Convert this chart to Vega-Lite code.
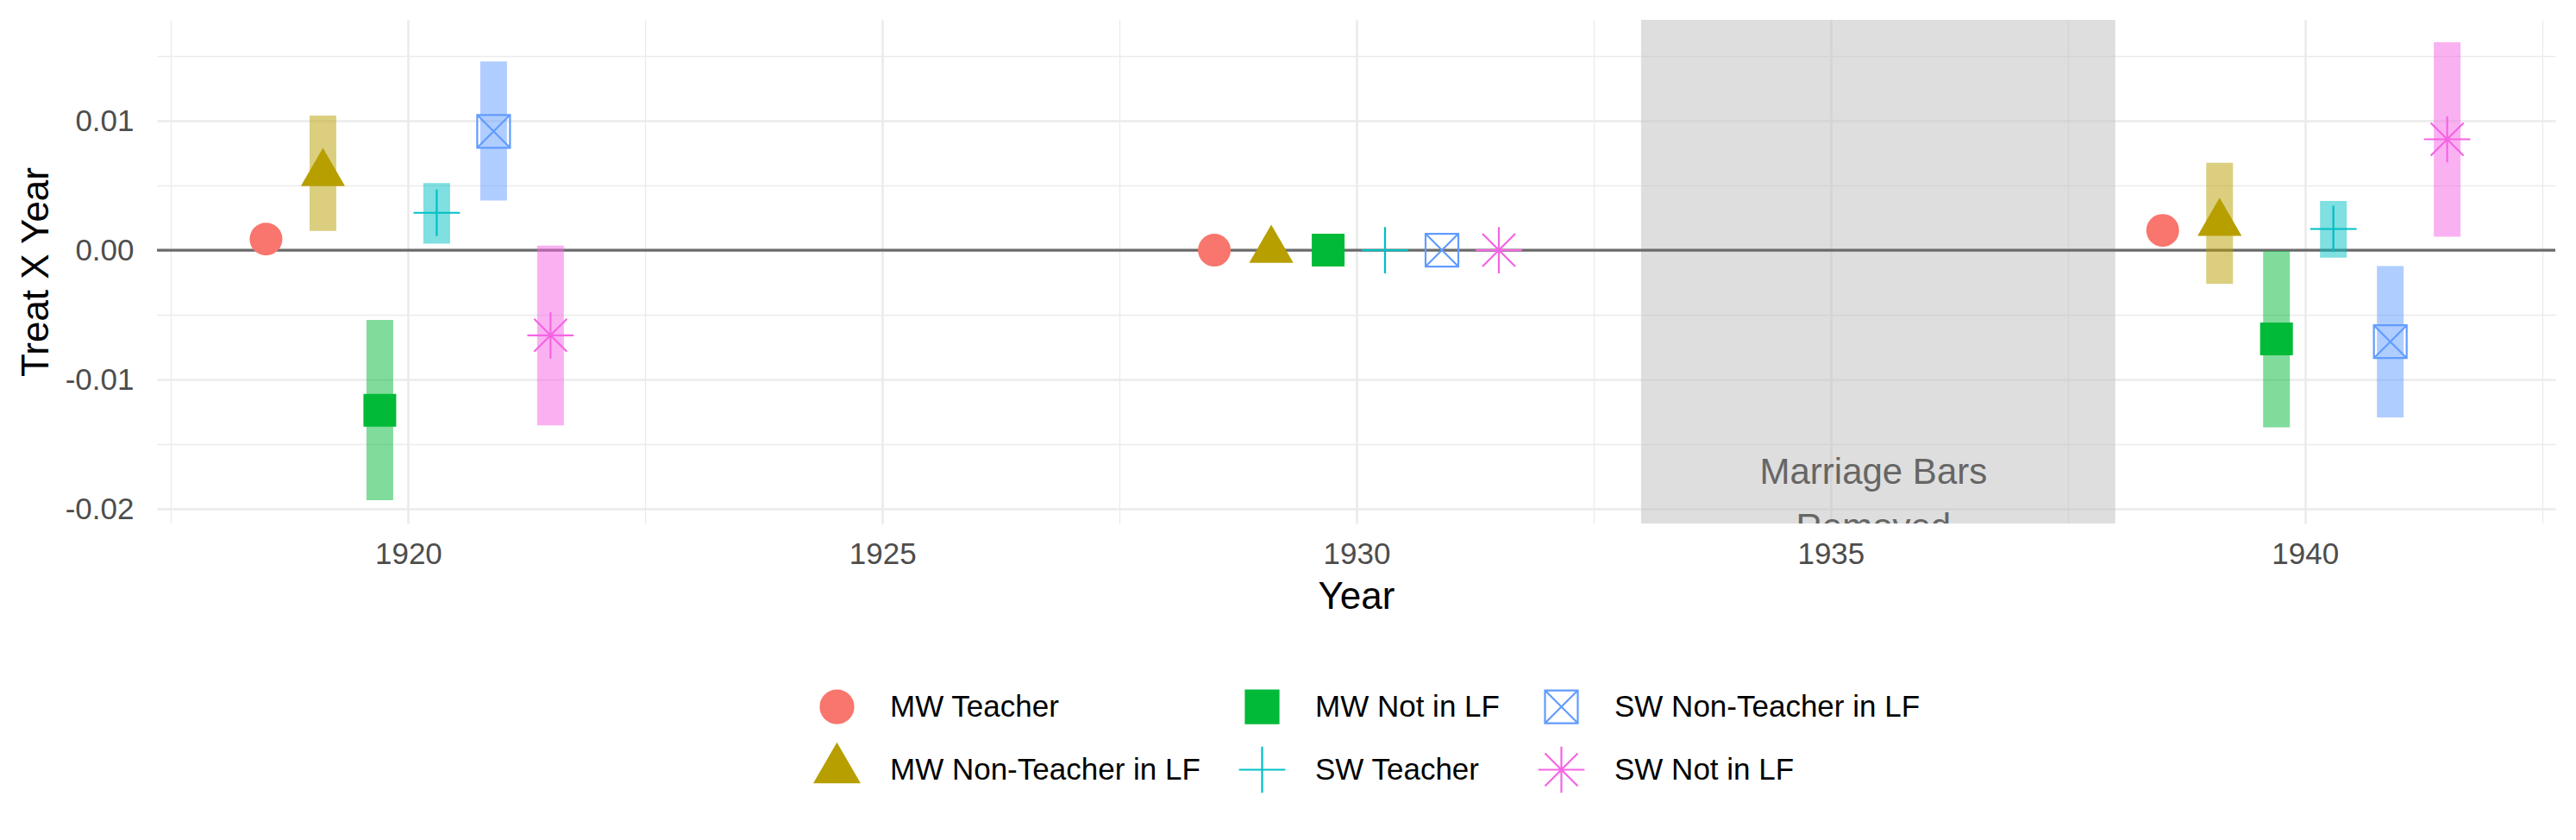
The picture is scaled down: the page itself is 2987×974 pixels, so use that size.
{
  "$schema": "https://vega.github.io/schema/vega-lite/v6.json",
  "autosize": {"type": "none"},
  "padding": {"left": 182, "top": 23, "right": 24, "bottom": 367},
  "width": 2781,
  "height": 584,
  "background": "white",
  "config": {
    "view": {"stroke": null},
    "font": "Liberation Sans",
    "axis": {
      "domain": false,
      "ticks": false,
      "tickSize": 0,
      "gridColor": "#EBEBEB",
      "labelColor": "#4D4D4D",
      "labelFont": "Liberation Sans",
      "labelFontSize": 35,
      "titleFont": "Liberation Sans",
      "titleFontSize": 44,
      "titleFontWeight": "normal",
      "titleColor": "#000000",
      "labelOverlap": false,
      "labelFlush": false
    }
  },
  "datasets": {
    "est": [
      {"group": "MW Teacher", "xpos": 1918.5, "est": 0.00086, "lo": null, "hi": null},
      {"group": "MW Non-Teacher in LF", "xpos": 1919.1, "est": 0.00594, "lo": 0.00149, "hi": 0.0104},
      {"group": "MW Not in LF", "xpos": 1919.7, "est": -0.01237, "lo": -0.01932, "hi": -0.00539},
      {"group": "SW Teacher", "xpos": 1920.3, "est": 0.00289, "lo": 0.00051, "hi": 0.00518},
      {"group": "SW Non-Teacher in LF", "xpos": 1920.9, "est": 0.00918, "lo": 0.00384, "hi": 0.01458},
      {"group": "SW Not in LF", "xpos": 1921.5, "est": -0.00658, "lo": -0.01354, "hi": 0.00036},
      {"group": "MW Teacher", "xpos": 1928.5, "est": 0, "lo": null, "hi": null},
      {"group": "MW Non-Teacher in LF", "xpos": 1929.1, "est": 0, "lo": null, "hi": null},
      {"group": "MW Not in LF", "xpos": 1929.7, "est": 0, "lo": null, "hi": null},
      {"group": "SW Teacher", "xpos": 1930.3, "est": 0, "lo": null, "hi": null},
      {"group": "SW Non-Teacher in LF", "xpos": 1930.9, "est": 0, "lo": null, "hi": null},
      {"group": "SW Not in LF", "xpos": 1931.5, "est": 0, "lo": null, "hi": null},
      {"group": "MW Teacher", "xpos": 1938.5, "est": 0.00153, "lo": null, "hi": null},
      {"group": "MW Non-Teacher in LF", "xpos": 1939.1, "est": 0.00209, "lo": -0.00259, "hi": 0.00676},
      {"group": "MW Not in LF", "xpos": 1939.7, "est": -0.00686, "lo": -0.01369, "hi": -0.00006},
      {"group": "SW Teacher", "xpos": 1940.3, "est": 0.00164, "lo": -0.00057, "hi": 0.00381},
      {"group": "SW Non-Teacher in LF", "xpos": 1940.9, "est": -0.00707, "lo": -0.01292, "hi": -0.00122},
      {"group": "SW Not in LF", "xpos": 1941.5, "est": 0.00857, "lo": 0.00104, "hi": 0.01607}
    ]
  },
  "layer": [
    {
      "data": {"values": [{"start": 1933, "end": 1938}]},
      "mark": {"type": "rect", "color": "#BEBEBE", "opacity": 0.5},
      "encoding": {
        "x": {
          "field": "start", "type": "quantitative",
          "scale": {"domain": [1917.35, 1942.64], "nice": false, "zero": false},
          "axis": {
            "title": "Year",
            "values": [1917.5, 1920, 1922.5, 1925, 1927.5, 1930, 1932.5, 1935, 1937.5, 1940, 1942.5],
            "labelExpr": "datum.value % 5 === 0 ? format(datum.value, 'd') : ''",
            "gridWidth": {"condition": {"test": "datum.value % 5 === 0", "value": 2.6}, "value": 1.3},
            "labelBaseline": "alphabetic",
            "labelPadding": 46,
            "titleX": 1390.5,
            "titleY": 98,
            "titleBaseline": "alphabetic",
            "titleAlign": "center",
            "zindex": 0
          }
        },
        "x2": {"field": "end"}
      }
    },
    {
      "data": {"values": [{"label": "Marriage Bars\nRemoved", "x": 1935.45, "y": -0.01719}]},
      "mark": {"type": "text", "clip": true, "fontSize": 42, "color": "#666666", "lineBreak": "\n", "lineHeight": 64, "baseline": "middle", "align": "center", "font": "Liberation Sans"},
      "encoding": {
        "x": {"field": "x", "type": "quantitative", "scale": {"domain": [1917.35, 1942.64], "nice": false, "zero": false}},
        "y": {"field": "y", "type": "quantitative", "scale": {"domain": [-0.02112, 0.0178], "nice": false, "zero": false}},
        "text": {"field": "label"}
      }
    },
    {
      "data": {"values": [{"y": 0}]},
      "mark": {"type": "rule", "color": "#6B6B6B", "strokeWidth": 3.4},
      "encoding": {
        "y": {
          "field": "y", "type": "quantitative",
          "scale": {"domain": [-0.02112, 0.0178], "nice": false, "zero": false},
          "axis": {
            "title": "Treat X Year",
            "values": [-0.02, -0.015, -0.01, -0.005, 0, 0.005, 0.01, 0.015],
            "labelExpr": "abs(datum.value*100 - round(datum.value*100)) < 0.001 ? replace(format(datum.value, '.2f'), '\u2212', '-') : ''",
            "gridWidth": {"condition": {"test": "abs(datum.value*100 - round(datum.value*100)) < 0.001", "value": 2.6}, "value": 1.3},
            "labelPadding": 27,
            "labelBaseline": "middle",
            "titleAngle": 270,
            "titleX": -127,
            "titleY": 292,
            "titleBaseline": "alphabetic",
            "titleAlign": "center",
            "zindex": 0
          }
        }
      }
    },
    {
      "data": {"name": "est"},
      "mark": {"type": "rule", "strokeWidth": 31, "opacity": 0.5, "strokeCap": "butt"},
      "encoding": {
        "x": {"field": "xpos", "type": "quantitative", "scale": {"domain": [1917.35, 1942.64], "nice": false, "zero": false}},
        "y": {"field": "lo", "type": "quantitative", "scale": {"domain": [-0.02112, 0.0178], "nice": false, "zero": false}},
        "y2": {"field": "hi"},
        "color": {
          "field": "group", "type": "nominal",
          "scale": {
            "domain": ["MW Teacher", "MW Not in LF", "SW Non-Teacher in LF", "MW Non-Teacher in LF", "SW Teacher", "SW Not in LF"],
            "range": ["#F8766D", "#00BA38", "#619CFF", "#B79F00", "#00BFC4", "#F564E3"]
          }
        }
      }
    },
    {
      "data": {"name": "est"},
      "mark": {"type": "point", "filled": false, "size": 1444, "opacity": 1},
      "encoding": {
        "x": {"field": "xpos", "type": "quantitative", "scale": {"domain": [1917.35, 1942.64], "nice": false, "zero": false}},
        "y": {"field": "est", "type": "quantitative", "scale": {"domain": [-0.02112, 0.0178], "nice": false, "zero": false}},
        "color": {
          "field": "group", "type": "nominal",
          "scale": {
            "domain": ["MW Teacher", "MW Not in LF", "SW Non-Teacher in LF", "MW Non-Teacher in LF", "SW Teacher", "SW Not in LF"],
            "range": ["#F8766D", "#00BA38", "#619CFF", "#B79F00", "#00BFC4", "#F564E3"]
          },
          "legend": {
            "title": null, "orient": "none", "legendX": 768, "legendY": 776,
            "direction": "horizontal", "columns": 3, "symbolSize": 1444, "symbolStrokeWidth": 2.2,
            "labelFontSize": 35, "labelFont": "Liberation Sans", "labelColor": "#000000",
            "labelOffset": 41, "rowPadding": 15, "columnPadding": 40, "padding": 0, "labelLimit": 1000,
            "encoding": {"symbols": {
              "fill": {"value": {"signal": "scale('fill', datum.value)"}},
              "strokeWidth": {"value": 2.2},
              "shape": {"value": {"signal": "datum.value === 'MW Teacher' ? 'M1,0A1,1 0 1,1 -1,0A1,1 0 1,1 1,0Z M-1.5,0L-1,0M1,0L1.5,0' : datum.value === 'MW Not in LF' ? 'M-1,-1L1,-1L1,1L-1,1Z M-1.5,0L-1,0M1,0L1.5,0' : datum.value === 'SW Non-Teacher in LF' ? 'M-1,-1L1,-1L1,1L-1,1Z M-1,-1L1,1M1,-1L-1,1M-1.5,0L1.5,0' : datum.value === 'MW Non-Teacher in LF' ? 'M0,-1.5551L1.3468,0.7776L-1.3468,0.7776Z M-1.5,0L-0.8,0M0.8,0L1.5,0' : datum.value === 'SW Teacher' ? 'M-1.5,0L1.5,0M0,-1.414L0,1.414' : 'M-1.5,0L1.5,0M0,-1.414L0,1.414M-1,-1L1,1M1,-1L-1,1'"}}
            }}
          }
        },
        "fill": {
          "field": "group", "type": "nominal", "legend": null,
          "scale": {
            "domain": ["MW Teacher", "MW Not in LF", "SW Non-Teacher in LF", "MW Non-Teacher in LF", "SW Teacher", "SW Not in LF"],
            "range": ["#F8766D", "#00BA38", "transparent", "#B79F00", "transparent", "transparent"]
          }
        },
        "strokeWidth": {
          "condition": {"test": "datum.group === 'MW Teacher' || datum.group === 'MW Not in LF' || datum.group === 'MW Non-Teacher in LF'", "value": 0},
          "value": 2.2
        },
        "shape": {
          "field": "group", "type": "nominal",
          "scale": {
            "domain": ["MW Teacher", "MW Not in LF", "SW Non-Teacher in LF", "MW Non-Teacher in LF", "SW Teacher", "SW Not in LF"],
            "range": ["circle", "square", "M-1,-1L1,-1L1,1L-1,1Z M-1,-1L1,1M1,-1L-1,1", "M0,-1.5551L1.3468,0.7776L-1.3468,0.7776Z", "M-1.414,0L1.414,0M0,-1.414L0,1.414", "M-1.414,0L1.414,0M0,-1.414L0,1.414M-1,-1L1,1M1,-1L-1,1"]
          },
          "legend": {
            "title": null, "orient": "none", "legendX": 768, "legendY": 776,
            "direction": "horizontal", "columns": 3, "symbolSize": 1444, "symbolStrokeWidth": 2.2,
            "labelFontSize": 35, "labelFont": "Liberation Sans", "labelColor": "#000000",
            "labelOffset": 41, "rowPadding": 15, "columnPadding": 40, "padding": 0, "labelLimit": 1000,
            "encoding": {"symbols": {
              "fill": {"value": {"signal": "scale('fill', datum.value)"}},
              "strokeWidth": {"value": 2.2},
              "shape": {"value": {"signal": "datum.value === 'MW Teacher' ? 'M1,0A1,1 0 1,1 -1,0A1,1 0 1,1 1,0Z M-1.5,0L-1,0M1,0L1.5,0' : datum.value === 'MW Not in LF' ? 'M-1,-1L1,-1L1,1L-1,1Z M-1.5,0L-1,0M1,0L1.5,0' : datum.value === 'SW Non-Teacher in LF' ? 'M-1,-1L1,-1L1,1L-1,1Z M-1,-1L1,1M1,-1L-1,1M-1.5,0L1.5,0' : datum.value === 'MW Non-Teacher in LF' ? 'M0,-1.5551L1.3468,0.7776L-1.3468,0.7776Z M-1.5,0L-0.8,0M0.8,0L1.5,0' : datum.value === 'SW Teacher' ? 'M-1.5,0L1.5,0M0,-1.414L0,1.414' : 'M-1.5,0L1.5,0M0,-1.414L0,1.414M-1,-1L1,1M1,-1L-1,1'"}}
            }}
          }
        }
      }
    }
  ]
}
